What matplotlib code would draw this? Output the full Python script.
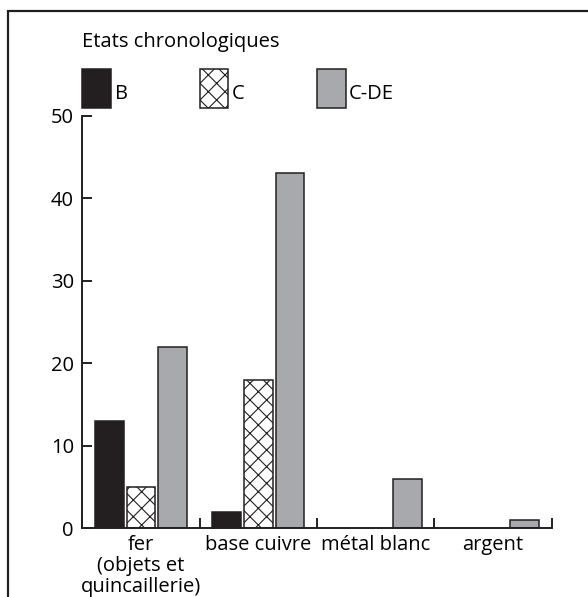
import matplotlib
matplotlib.use("Agg")
import matplotlib.pyplot as plt
import matplotlib.transforms as mtransforms
from matplotlib.patches import Rectangle
import numpy as np

plt.rcParams['font.family'] = ['Open Sans', 'DejaVu Sans']
plt.rcParams['font.size'] = 14.5
plt.rcParams['hatch.linewidth'] = 0.8

categories = ['fer\n(objets et\nquincaillerie)', 'base cuivre', 'métal blanc', 'argent']
series = ['B', 'C', 'C-DE']
values_B = [13, 2, 0, 0]
values_C = [5, 18, 0, 0]
values_CDE = [22, 43, 6, 1]

dark = '#231f20'
grey = '#a7a9ac'
styles = {'B': dict(color=dark, hatch=None),
          'C': dict(color='white', hatch='xx'),
          'C-DE': dict(color=grey, hatch=None)}

fig = plt.figure(figsize=(5.88, 5.97), dpi=100)
ax = fig.add_axes([0.140, 0.1151, 0.798, 0.6911])

# outer frame (only top/left visible)
fig.patches.append(Rectangle((0.0128, -0.2), 1.5, 1.2 - 0.0176, transform=fig.transFigure,
                             fill=False, edgecolor=dark, linewidth=1.6))

x = np.arange(len(categories)) + 0.5
width = 0.245
offsets = [-0.27, 0.0, 0.27]
for name, vals, off in zip(series, [values_B, values_C, values_CDE], offsets):
    st = styles[name]
    for xi, v in zip(x, vals):
        if v > 0:
            ax.bar(xi + off, v, width, color=st['color'], hatch=st['hatch'],
                   edgecolor=dark, linewidth=1.1)

ax.set_xlim(0, 4)
ax.set_ylim(0, 50)
for s in ['top', 'right']:
    ax.spines[s].set_visible(False)
for s in ['left', 'bottom']:
    ax.spines[s].set_linewidth(1.4)
    ax.spines[s].set_color(dark)

ax.set_yticks([0, 10, 20, 30, 40, 50])
ax.tick_params(axis='y', direction='in', length=7, width=1.4, color=dark, pad=6)
ax.set_xticks([0, 1, 2, 3, 4])
ax.set_xticklabels([])
ax.tick_params(axis='x', which='major', direction='in', length=7, width=1.4, color=dark)
ax.set_xticks(x, minor=True)
ax.set_xticklabels(categories, minor=True, linespacing=1.05)
ax.tick_params(axis='x', which='minor', length=0, pad=5)

# legend drawn by hand, aligned on category boundaries
tr = mtransforms.blended_transform_factory(ax.transData, fig.transFigure)
fig.text(0.140, 0.930, 'Etats chronologiques', ha='left', va='center')
for i, name in enumerate(series):
    st = styles[name]
    ax.add_patch(Rectangle((i, 0.8196), width, 0.0653, transform=tr, clip_on=False,
                           facecolor=st['color'], hatch=st['hatch'], edgecolor=dark,
                           linewidth=1.1))
    ax.text(i + width + 0.03, 0.843, name, transform=tr, ha='left', va='center')

fig.savefig('out.png', dpi=100)
